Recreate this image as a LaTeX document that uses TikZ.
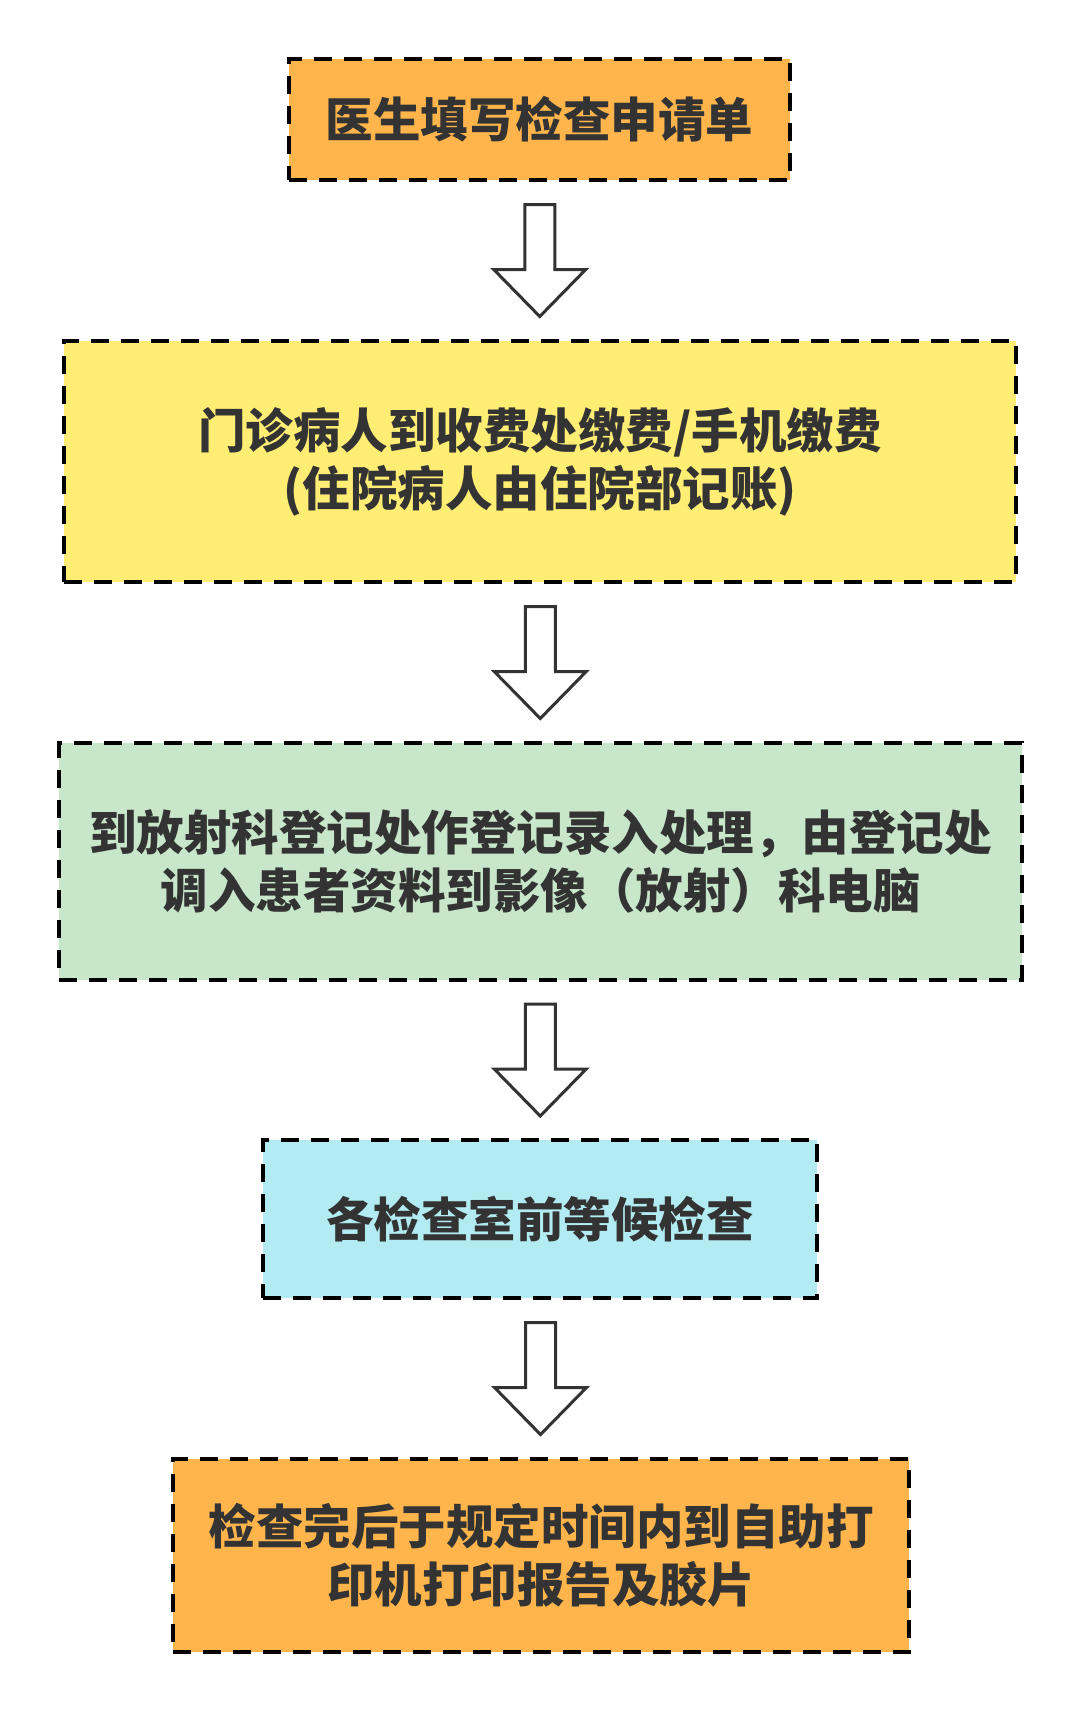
\documentclass[tikz,border=0pt]{standalone}
\usepackage{fontspec}
\newfontfamily\cjk{Noto Sans CJK SC}
\usetikzlibrary{calc}
\definecolor{txt}{HTML}{333333}
\definecolor{orangefill}{HTML}{FFB54C}
\definecolor{yellowfill}{HTML}{FFED74}
\definecolor{greenfill}{HTML}{C8E6C9}
\definecolor{cyanfill}{HTML}{B2EBF2}
\tikzset{
  stepbox/.style={draw=black, line width=4.6pt, dash pattern=on 18pt off 12pt,
    inner sep=0pt, outer sep=0pt, align=center, text=txt,
    font=\cjk\bfseries\fontsize{47.5}{58}\selectfont},
  blockarr/.style={draw=txt, fill=white, line width=3pt, line join=miter}
}
\newcommand\blockarrow[2]{%
  \draw[blockarr] ($(#1.south)!0.5!(#2.north)$) ++(-15,-56) -- ++(30,0) -- ++(0,65)
    -- ++(31,0) -- ++(-46,47) -- ++(-46,-47) -- ++(31,0) -- cycle;}
\begin{document}
\begin{tikzpicture}[x=1pt,y=-1pt]
\fill[white] (0,0) rectangle (1080,1713);
\useasboundingbox (0,0) rectangle (1080,1713);
\node[stepbox, fill=orangefill, minimum width=501pt, minimum height=121pt] (b1) at (539.5,119.5) {医生填写检查申请单};
\node[stepbox, fill=yellowfill, minimum width=952pt, minimum height=241pt] (b2) at (540,461.5) {门诊病人到收费处缴费/手机缴费\\(住院病人由住院部记账)};
\node[stepbox, fill=greenfill, minimum width=963pt, minimum height=237pt] (b3) at (540.5,861.5) {到放射科登记处作登记录入处理，由登记处\\调入患者资料到影像（放射）科电脑};
\node[stepbox, fill=cyanfill, minimum width=554pt, minimum height=158pt] (b4) at (540,1219) {各检查室前等候检查};
\node[stepbox, fill=orangefill, minimum width=736pt, minimum height=193pt] (b5) at (541,1555.5) {检查完后于规定时间内到自助打\\印机打印报告及胶片};
\blockarrow{b1}{b2}
\blockarrow{b2}{b3}
\blockarrow{b3}{b4}
\blockarrow{b4}{b5}
\end{tikzpicture}
\end{document}
